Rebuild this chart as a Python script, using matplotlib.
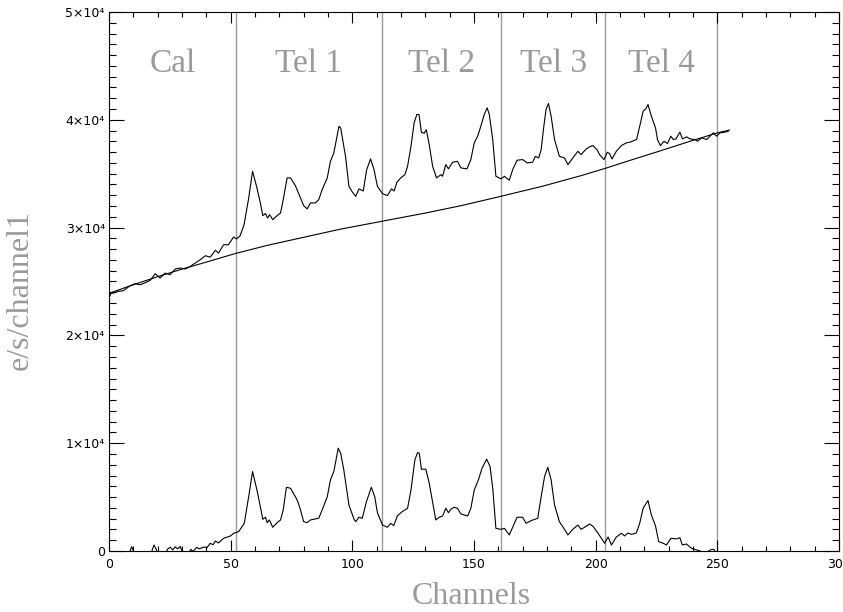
"""
Spectre par canal : signal total, fond lisse et signal corrigé du fond,
avec les zones Cal / Tel 1..4 séparées par des traits verticaux.
"""

import matplotlib
matplotlib.use("Agg")
import matplotlib.pyplot as plt
from matplotlib.ticker import MultipleLocator, FuncFormatter

# =============================================================================
# DONNÉES
# =============================================================================

# Courbe haute : signal total (e/s/canal)
upper_ch = [
    0.0, 0.8, 1.8, 3.8, 5.9, 8.7, 10.7, 12.8, 14.8, 16.9, 19.0, 21.0, 23.1,
    25.1, 27.2, 29.3, 31.3, 33.4, 35.4, 37.5, 39.6, 41.6, 43.7, 45.0, 47.1,
    49.1, 51.2, 52.5, 53.9, 55.5, 57.3, 59.0, 60.8, 62.2, 63.2, 64.3, 65.2,
    66.0, 67.3, 69.1, 70.5, 71.6, 73.2, 74.6, 76.6, 78.7, 80.0, 81.4, 82.8,
    84.8, 86.2, 87.6, 89.7, 91.0, 92.4, 93.5, 94.5, 95.2, 97.2, 98.6, 100.0,
    101.4, 102.7, 104.5, 105.9, 107.5, 108.9, 110.3, 112.4, 114.4, 116.1,
    117.2, 118.3, 119.9, 121.6, 122.7, 124.1, 125.4, 126.5, 127.4, 128.4,
    129.5, 130.4, 131.6, 133.0, 134.6, 136.4, 137.1, 138.4, 139.5, 141.2,
    143.2, 144.6, 147.1, 148.7, 150.1, 151.5, 152.9, 154.2, 155.4, 156.3,
    157.7, 159.0, 161.1, 162.5, 164.5, 165.9, 167.7, 170.0, 171.8, 174.1,
    175.2, 176.6, 177.6, 178.7, 179.6, 180.6, 181.7, 183.1, 185.1, 187.2,
    188.6, 190.6, 192.7, 194.0, 196.1, 197.5, 198.9, 200.7, 201.6, 203.4,
    204.8, 205.7, 206.7, 208.5, 210.6, 212.6, 214.0, 216.8, 218.1, 219.5,
    220.6, 221.5, 222.9, 224.6, 225.4, 226.6, 228.1, 229.5, 230.9, 231.9,
    233.0, 234.6, 235.7, 237.4, 238.7, 240.8, 241.9, 243.5, 245.6, 247.0,
    248.3, 249.7, 251.1, 253.1, 254.5,
]
upper_val = [
    23470, 23900, 23930, 24080, 24150, 24610, 24790, 24700, 24880, 25100,
    25720, 25320, 25780, 25630, 26160, 26250, 26160, 26400, 26710, 27020,
    27390, 27260, 27890, 27640, 28410, 28410, 29130, 28950, 29250, 30270,
    32590, 35220, 33680, 32290, 31110, 31300, 30890, 31200, 30740, 31110,
    31360, 32590, 34610, 34610, 33890, 32750, 32040, 31730, 32290, 32290,
    32590, 33520, 34610, 36150, 36930, 38200, 39400, 39250, 36610, 33830,
    33300, 32900, 33590, 33400, 35380, 36370, 35380, 33830, 33150, 32970,
    33590, 33400, 34200, 34610, 34910, 35690, 37540, 39720, 40490, 40490,
    38840, 38750, 39090, 37700, 35690, 34610, 34910, 34760, 35840, 35450,
    36060, 36150, 35540, 35450, 36310, 37860, 38480, 39470, 40490, 41110,
    40490, 38160, 34760, 34520, 34760, 34390, 35380, 36250, 36310, 36000,
    36060, 36610, 36460, 37240, 39400, 40950, 41510, 40330, 38160, 36610,
    36460, 35840, 36460, 37080, 36770, 37300, 37490, 37610, 37180, 36770,
    36310, 36990, 36870, 36370, 37080, 37610, 37860, 37920, 38170, 39400,
    40790, 41000, 41420, 40330, 39250, 38160, 37610, 38010, 37800, 38480,
    38170, 38230, 38850, 38230, 38420, 38230, 38170, 38010, 38330, 38170,
    38480, 38790, 38480, 38790, 38850, 38940,
]

# Fond lisse
base_ch = [0, 10, 20, 30, 40, 52, 65, 80, 95, 112, 130, 145, 161, 178, 194,
           204, 215, 226, 238, 250, 255]
base_val = [23900, 24700, 25450, 26150, 26800, 27600, 28350, 29100, 29850,
            30580, 31350, 32050, 32900, 33830, 34820, 35500, 36300, 37080,
            37950, 38790, 39050]

# Courbe basse : signal moins le fond
lower_ch = [
    0, 5, 8.5, 9.3, 10.2, 12, 17, 18.5, 19.5, 20.5, 23, 24.2, 25.2, 26.2,
    27.2, 28.2, 29.3, 30.3, 32.5, 33.6, 34.6, 36.0, 37.2, 38.9, 40.2, 41.6,
    42.8, 43.7, 45.0, 47.1, 49.9, 51.2, 53.3, 55.6, 57.4, 59.0, 60.8, 62.2,
    63.2, 64.3, 65.0, 65.9, 67.3, 69.1, 70.5, 71.6, 72.9, 74.6, 76.6, 77.6,
    78.7, 80.0, 81.4, 82.8, 86.2, 87.6, 89.7, 91.0, 92.4, 94.2, 95.2, 96.5,
    98.6, 100.7, 101.4, 102.7, 104.1, 105.8, 107.8, 109.2, 110.3, 112.4,
    114.4, 115.8, 117.0, 118.5, 120.5, 122.7, 124.1, 125.7, 126.8, 127.5,
    128.4, 130.2, 131.6, 133.0, 134.3, 135.7, 137.1, 138.4, 139.5, 140.5,
    141.8, 143.2, 144.6, 147.4, 148.7, 150.1, 151.8, 153.3, 155.2, 156.6,
    157.7, 159.0, 161.1, 162.5, 164.5, 165.9, 167.7, 170.0, 171.4, 173.5,
    176.2, 177.6, 179.0, 180.3, 181.7, 183.1, 185.1, 187.2, 188.6, 190.6,
    192.7, 194.0, 196.1, 197.5, 198.9, 201.0, 203.7, 205.1, 206.5, 208.5,
    210.6, 211.9, 213.3, 214.7, 216.7, 218.1, 219.5, 221.5, 222.9, 224.6,
    225.9, 227.8, 229.1, 230.9, 233.3, 234.6, 235.6, 237.3, 239.4, 240.8,
    242.9, 245.0, 247.6, 248.6, 249.5, 252, 255,
]
lower_val = [
    -800, -600, -100, 400, -100, -700, -400, 560, 100, -400, -300, 200, 350,
    100, 380, 200, 420, -200, -300, 150, -50, 340, 200, 370, 300, 710, 580,
    930, 750, 1180, 1390, 1640, 1800, 2570, 5040, 7370, 5660, 4110, 2940,
    3130, 2630, 2880, 2200, 2630, 2880, 3810, 5910, 5820, 5040, 4580, 3810,
    2720, 2630, 2880, 3040, 3810, 5040, 6590, 7370, 9540, 9070, 7520, 4270,
    2940, 2720, 3130, 3040, 4580, 5910, 5040, 3560, 2410, 2200, 2570, 2350,
    3250, 3650, 3960, 5660, 8450, 9130, 9070, 7590, 7590, 6280, 4490, 2880,
    3130, 3250, 3960, 3560, 3870, 4060, 3960, 3440, 3250, 3960, 5660, 6590,
    7680, 8520, 7830, 5820, 2100, 2010, 2100, 1490, 2200, 3130, 3130, 2570,
    2820, 3040, 5040, 6900, 7770, 6590, 4270, 2720, 2010, 1490, 2010, 2410,
    2010, 2290, 2510, 2290, 1640, 710, 1300, 560, 1300, 1640, 1400, 1670,
    1540, 1670, 2570, 3960, 4680, 3340, 2320, 870, 710, 560, 1180, 1120,
    1240, 560, 650, 250, 150, 0, -200, 150, 150, -200, -400, -500,
]

# Limites des zones et leurs noms
region_edges = [0, 52, 112, 161, 204, 250]
region_names = ["Cal", "Tel 1", "Tel 2", "Tel 3", "Tel 4"]

GRAY = "#9a9a9a"
SERIF = "Liberation Serif"


def sci_label(v, pos):
    """Étiquette au format IDL : 0, 1×10⁴, 2×10⁴ ..."""
    if v == 0:
        return "0"
    return f"{v / 1e4:.0f}×10⁴"


def main() -> None:
    fig = plt.figure(figsize=(8.43, 6.12), dpi=100)
    ax = fig.add_axes([109 / 843, 61 / 612, 730 / 843, 539 / 612])

    # Traits verticaux séparant les zones (sauf le bord gauche)
    for x in region_edges[1:]:
        ax.axvline(x, color=GRAY, lw=1.0, zorder=1)

    # Noms des zones, centrés entre les traits
    for left, right, name in zip(region_edges[:-1], region_edges[1:],
                                 region_names):
        ax.text((left + right) / 2, 44400, name, ha="center", va="baseline",
                fontsize=24, color=GRAY, family=SERIF)

    ax.plot(upper_ch, upper_val, color="black", lw=0.8, zorder=3)
    ax.plot(base_ch, base_val, color="black", lw=0.8, zorder=3)
    ax.plot(lower_ch, lower_val, color="black", lw=0.8, zorder=3)

    ax.set_xlim(0, 300)
    ax.set_ylim(0, 50000)

    ax.xaxis.set_major_locator(MultipleLocator(50))
    ax.xaxis.set_minor_locator(MultipleLocator(10))
    ax.yaxis.set_major_locator(MultipleLocator(10000))
    ax.yaxis.set_minor_locator(MultipleLocator(1000))
    ax.yaxis.set_major_formatter(FuncFormatter(sci_label))

    ax.tick_params(which="both", direction="in", top=True, right=True,
                   width=0.8, labelsize=9)
    ax.tick_params(axis="x", which="major", length=7.8, pad=5)
    ax.tick_params(axis="x", which="minor", length=3.9)
    ax.tick_params(axis="y", which="major", length=10.5, pad=3)
    ax.tick_params(axis="y", which="minor", length=5.2)
    for lab in ax.get_xticklabels() + ax.get_yticklabels():
        lab.set_family("DejaVu Sans")

    for sp in ax.spines.values():
        sp.set_linewidth(0.8)

    ax.set_xlabel("Channels", fontsize=23, color=GRAY, family=SERIF,
                  va="baseline")
    ax.xaxis.set_label_coords(0.496, -0.098)
    ax.set_ylabel("e/s/channel1", fontsize=23, color=GRAY, family=SERIF,
                  va="center")
    ax.yaxis.set_label_coords(-0.122, 0.484)

    fig.savefig("out.png", dpi=100)


if __name__ == "__main__":
    main()
